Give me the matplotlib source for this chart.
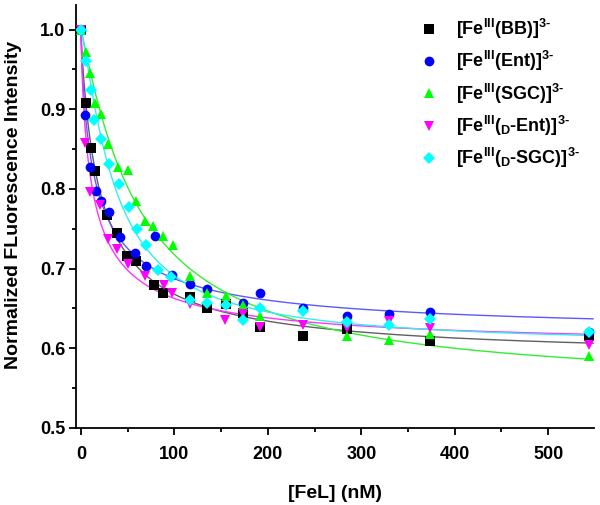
import numpy as np
import matplotlib
matplotlib.use("Agg")
from matplotlib import pyplot as plt
from matplotlib.ticker import MultipleLocator

plt.rcParams['font.family'] = ['Liberation Sans', 'DejaVu Sans']
plt.rcParams['font.weight'] = 'bold'
plt.rcParams['mathtext.fontset'] = 'custom'
plt.rcParams['mathtext.rm'] = 'Liberation Sans:bold'
plt.rcParams['mathtext.it'] = 'Liberation Sans:bold'
plt.rcParams['mathtext.bf'] = 'Liberation Sans:bold'

# [Fe(BB)]
bb_x = [0, 5, 11, 15, 28, 39, 49, 59, 78, 88, 117, 135, 155, 173, 192, 238, 285, 374, 544]
bb_y = [1.0, 0.908, 0.851, 0.823, 0.767, 0.745, 0.716, 0.71, 0.679, 0.67, 0.664, 0.651,
        0.655, 0.644, 0.627, 0.616, 0.624, 0.609, 0.615]
# [Fe(Ent)]
ent_x = [0, 4, 10, 16, 21, 30, 42, 58, 70, 79, 98, 117, 135, 173, 192, 238, 285, 330, 374, 544]
ent_y = [1.0, 0.893, 0.827, 0.797, 0.785, 0.771, 0.74, 0.719, 0.703, 0.741, 0.692, 0.681,
         0.674, 0.657, 0.67, 0.651, 0.64, 0.643, 0.645, 0.621]
# [Fe(SGC)]
sgc_x = [0, 5.5, 10, 15, 21, 29.5, 40, 50, 59, 69, 77.5, 88, 98.6, 117, 135, 155, 173.5,
         192, 285, 330, 374, 544]
sgc_y = [1.0, 0.972, 0.945, 0.908, 0.894, 0.856, 0.827, 0.824, 0.785, 0.76, 0.754, 0.741,
         0.729, 0.691, 0.67, 0.665, 0.654, 0.641, 0.615, 0.611, 0.618, 0.59]
# [Fe(D-Ent)]
dent_x = [0, 4, 10, 20, 29, 39, 50, 69, 89, 97.5, 117, 154.5, 173.5, 192, 238, 285, 330, 374, 544]
dent_y = [1.0, 0.857, 0.796, 0.78, 0.737, 0.724, 0.706, 0.691, 0.679, 0.67, 0.655, 0.635,
          0.643, 0.627, 0.629, 0.626, 0.634, 0.625, 0.604]
# [Fe(D-SGC)]
dsgc_x = [0, 5.5, 11, 14.5, 21, 30.5, 41, 51, 60, 70, 82, 96, 117, 135, 155, 173.5, 192,
          238, 285, 330, 374, 544]
dsgc_y = [1.0, 0.961, 0.924, 0.887, 0.863, 0.831, 0.806, 0.777, 0.75, 0.729, 0.698, 0.69,
          0.66, 0.657, 0.654, 0.636, 0.65, 0.647, 0.633, 0.629, 0.637, 0.621]

labels = [r'[Fe$^{\rm III}$(BB)]$^{\rm 3\text{-}}$',
          r'[Fe$^{\rm III}$(Ent)]$^{\rm 3\text{-}}$',
          r'[Fe$^{\rm III}$(SGC)]$^{\rm 3\text{-}}$',
          r'[Fe$^{\rm III}$($_{\rm D}$-Ent)]$^{\rm 3\text{-}}$',
          r'[Fe$^{\rm III}$($_{\rm D}$-SGC)]$^{\rm 3\text{-}}$']


def fit_curve(x, y, x_end=548):
    # least squares fit of y = c + (1-c)/(1+(x/K)^n), grid over K and n
    x = np.asarray(x, float)
    d = 1 - np.asarray(y, float)
    best = None
    for n in np.linspace(0.8, 2.2, 29):
        for K in np.linspace(2, 150, 300):
            g = 1 - 1 / (1 + (x / K) ** n)
            A = np.sum(d * g) / np.sum(g * g)
            err = np.sum((d - A * g) ** 2)
            if best is None or err < best[0]:
                best = (err, A, K, n)
    _, A, K, n = best
    xs = np.linspace(0, x_end, 500)
    return xs, 1 - A * (1 - 1 / (1 + (xs / K) ** n))


series = [(bb_x, bb_y, 's', 'black', '#606060'),
          (ent_x, ent_y, 'o', '#0000ff', '#5a5aff'),
          (sgc_x, sgc_y, '^', '#00ff00', '#33ee33'),
          (dent_x, dent_y, 'v', '#ff00ff', '#ff33ff'),
          (dsgc_x, dsgc_y, 'D', '#00ffff', '#33eeee')]

fig = plt.figure(figsize=(6, 5.05), dpi=100)
ax = fig.add_axes([0.127, 0.1525, 0.863, 0.838])

for (x, y, m, c, lc), lab in zip(series, labels):
    xs, ys = fit_curve(x, y)
    ax.plot(xs, ys, color=lc, lw=1.0, zorder=2)
for (x, y, m, c, lc), lab in zip(series, labels):
    ms = 6 if m == 'D' else 7
    ax.plot(x, y, m, color=c, ms=ms, mew=0, label=lab, zorder=3)

ax.set_xlim(-5, 549)
ax.set_ylim(0.5, 1.031)
ax.xaxis.set_major_locator(MultipleLocator(100))
ax.xaxis.set_minor_locator(MultipleLocator(50))
ax.yaxis.set_major_locator(MultipleLocator(0.1))
ax.yaxis.set_minor_locator(MultipleLocator(0.05))
ax.spines['top'].set_visible(False)
ax.spines['right'].set_visible(False)
for s in ['left', 'bottom']:
    ax.spines[s].set_linewidth(1.3)
ax.tick_params(which='major', length=5, width=1.3, labelsize=13, direction='out')
ax.tick_params(axis='x', which='major', pad=8)
ax.tick_params(axis='y', which='major', pad=3)
ax.tick_params(which='minor', length=3, width=1.3, direction='out')
for t in ax.get_xticklabels() + ax.get_yticklabels():
    t.set_fontweight('bold')

ax.set_xlabel('[FeL] (nM)', fontsize=14, fontweight='bold', labelpad=16)
ax.set_ylabel('Normalized FLuorescence Intensity', fontsize=14, fontweight='bold', labelpad=4)
ax.yaxis.set_label_coords(-0.105, 0.527)

ax.legend(loc='upper left', bbox_to_anchor=(0.633, 0.988), frameon=False, fontsize=13,
          handletextpad=0.5, labelspacing=0.45, borderaxespad=0)

fig.savefig('out.png', dpi=100)
